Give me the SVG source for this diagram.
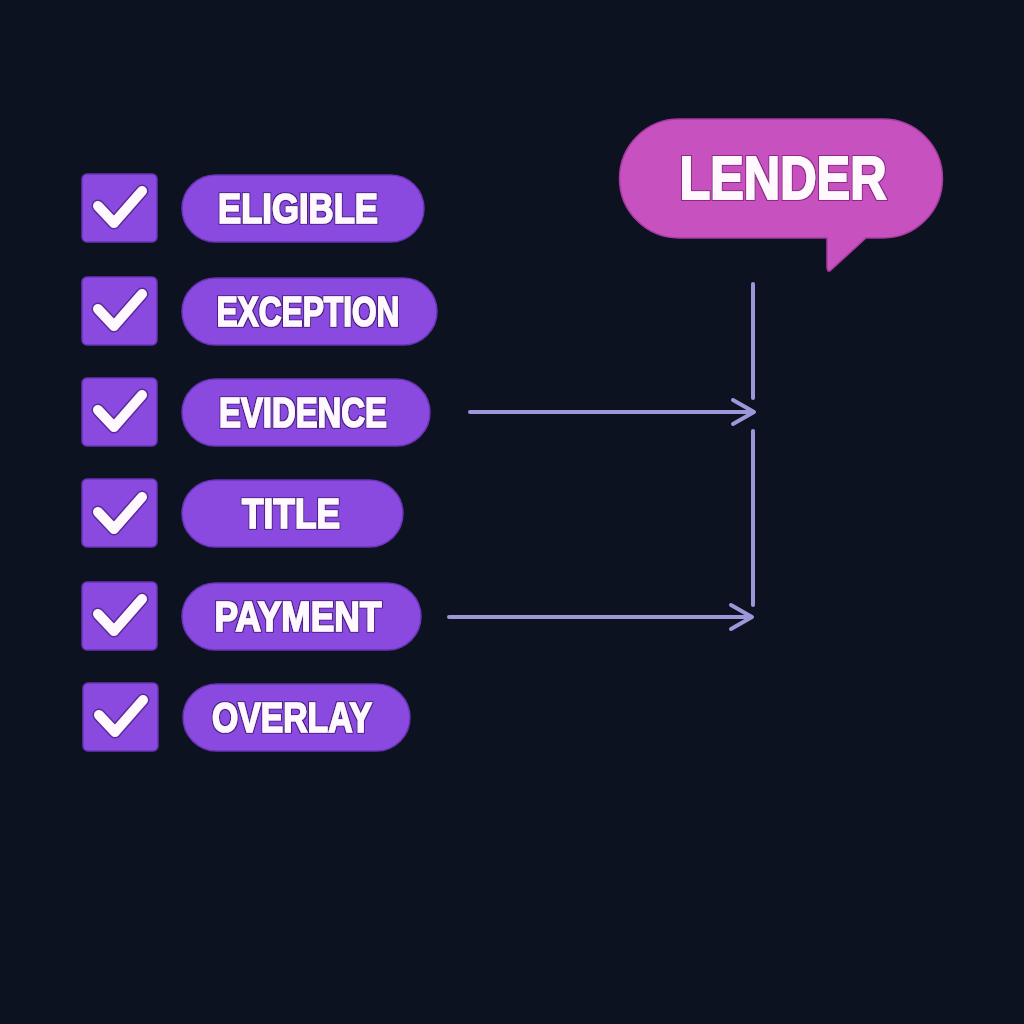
<svg xmlns="http://www.w3.org/2000/svg" width="1024" height="1024" viewBox="0 0 1024 1024">
<defs>
<filter id="outline" x="-10%" y="-20%" width="120%" height="140%">
<feMorphology in="SourceAlpha" operator="dilate" radius="1.3" result="d"/>
<feFlood flood-color="#4b1f86"/>
<feComposite in2="d" operator="in" result="o"/>
<feMerge><feMergeNode in="o"/><feMergeNode in="SourceGraphic"/></feMerge>
</filter>
<filter id="outline2" x="-10%" y="-20%" width="120%" height="140%">
<feMorphology in="SourceAlpha" operator="dilate" radius="1.3" result="d"/>
<feFlood flood-color="#8a2a86"/>
<feComposite in2="d" operator="in" result="o"/>
<feMerge><feMergeNode in="o"/><feMergeNode in="SourceGraphic"/></feMerge>
</filter>
<style>
.box{fill:#8a4ae0;stroke:#6a34b8;stroke-width:1.5}
.pill{fill:#8a4ae0;stroke:#6a34b8;stroke-width:1.5}
.chk-o{fill:none;stroke:#5a2a9a;stroke-width:13;stroke-linecap:round;stroke-linejoin:round}
.chk{fill:none;stroke:#fff8ff;stroke-width:10;stroke-linecap:round;stroke-linejoin:round}
.lbl{font-family:"Liberation Sans","DejaVu Sans",sans-serif;font-weight:bold;font-size:43px;fill:#fff8ff;stroke:#fff8ff;stroke-width:1.6;text-anchor:middle;filter:url(#outline)}
.big{font-family:"Liberation Sans","DejaVu Sans",sans-serif;font-weight:bold;font-size:61px;fill:#fff8ff;stroke:#fff8ff;stroke-width:2;text-anchor:middle;filter:url(#outline2)}
.ln{fill:none;stroke:#9d97da;stroke-width:4;stroke-linecap:round;stroke-linejoin:round}
</style>
<path id="tick" d="M-22,-1 L-6,16 L22,-16"/>
</defs>
<rect width="1024" height="1024" fill="#0c1220"/>

<g id="row-eligible">
<rect class="box" x="82" y="174" width="75" height="68" rx="5"/>
<use href="#tick" x="120" y="207" class="chk-o"/><use href="#tick" x="120" y="207" class="chk"/>
<rect class="pill" x="182" y="175" width="242" height="67" rx="33.5"/>
<text class="lbl" x="298" y="223" textLength="160" lengthAdjust="spacingAndGlyphs">ELIGIBLE</text>
</g>
<g id="row-exception">
<rect class="box" x="82" y="277" width="75" height="68" rx="5"/>
<use href="#tick" x="120" y="310" class="chk-o"/><use href="#tick" x="120" y="310" class="chk"/>
<rect class="pill" x="182" y="278" width="255" height="67" rx="33.5"/>
<text class="lbl" x="308" y="326" textLength="183" lengthAdjust="spacingAndGlyphs">EXCEPTION</text>
</g>
<g id="row-evidence">
<rect class="box" x="82" y="378" width="75" height="68" rx="5"/>
<use href="#tick" x="120" y="411" class="chk-o"/><use href="#tick" x="120" y="411" class="chk"/>
<rect class="pill" x="182" y="379" width="248" height="67" rx="33.5"/>
<text class="lbl" x="303" y="427" textLength="168" lengthAdjust="spacingAndGlyphs">EVIDENCE</text>
</g>
<g id="row-title">
<rect class="box" x="82" y="479" width="75" height="68" rx="5"/>
<use href="#tick" x="120" y="513" class="chk-o"/><use href="#tick" x="120" y="513" class="chk"/>
<rect class="pill" x="182" y="480" width="221" height="67" rx="33.5"/>
<text class="lbl" x="291" y="528" textLength="98" lengthAdjust="spacingAndGlyphs">TITLE</text>
</g>
<g id="row-payment">
<rect class="box" x="82" y="582" width="75" height="68" rx="5"/>
<use href="#tick" x="120" y="615" class="chk-o"/><use href="#tick" x="120" y="615" class="chk"/>
<rect class="pill" x="182" y="583" width="239" height="67" rx="33.5"/>
<text class="lbl" x="298" y="631" textLength="167" lengthAdjust="spacingAndGlyphs">PAYMENT</text>
</g>
<g id="row-overlay">
<rect class="box" x="83" y="683" width="75" height="68" rx="5"/>
<use href="#tick" x="121" y="716" class="chk-o"/><use href="#tick" x="121" y="716" class="chk"/>
<rect class="pill" x="183" y="684" width="227" height="67" rx="33.5"/>
<text class="lbl" x="292" y="732" textLength="160" lengthAdjust="spacingAndGlyphs">OVERLAY</text>
</g>

<g id="lender">
<path d="M679,119 H883 A59.5,59.5 0 0 1 883,238 H866 L831,270 Q828,273 827,268 V238 H679 A59.5,59.5 0 0 1 679,119 Z" fill="#c851c0" stroke="#a83aa2" stroke-width="1.5"/>
<text class="big" x="783" y="199" textLength="207" lengthAdjust="spacingAndGlyphs">LENDER</text>
</g>

<g id="connectors">
<path class="ln" d="M753,284 V398"/>
<path class="ln" d="M753,431 V605"/>
<path class="ln" d="M470,412 H753"/>
<path class="ln" d="M733,400 L754,412 L733,424"/>
<path class="ln" d="M449,617 H751"/>
<path class="ln" d="M731,605 L752,617 L731,629"/>
</g>
</svg>
